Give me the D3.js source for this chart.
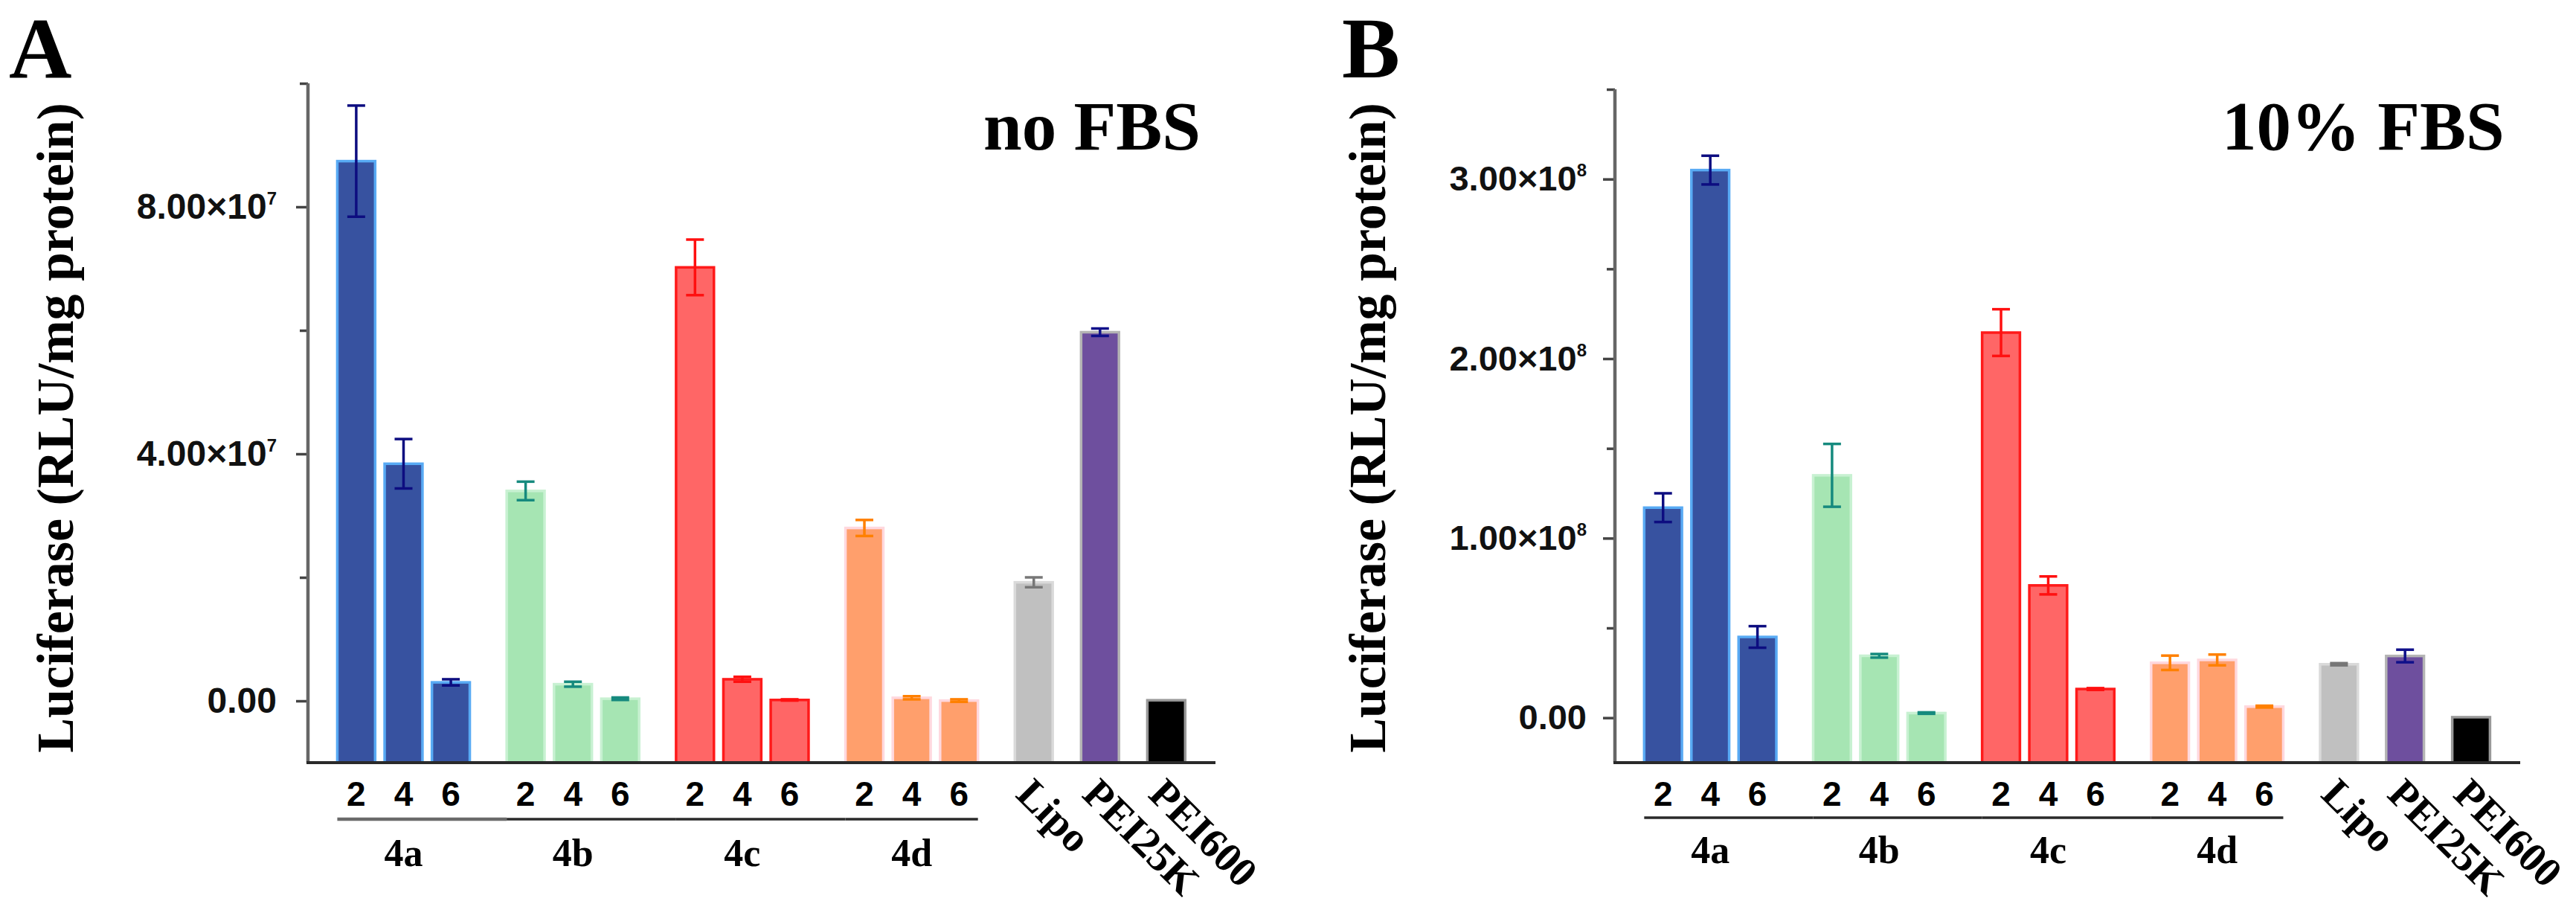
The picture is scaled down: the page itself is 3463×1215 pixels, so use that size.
<!DOCTYPE html>
<html>
<head>
  <meta charset="utf-8">
  <title>Luciferase expression, no FBS vs 10% FBS</title>
  <script src="https://d3js.org/d3.v7.min.js"></script>
  <style>
    body { margin: 0; background: #fff; }
    svg { display: block; }
  </style>
</head>
<body>
<svg id="fig" width="3463" height="1215"></svg>
<script>
// ---- data ----
const categories = ["2", "4", "6", "2", "4", "6", "2", "4", "6", "2", "4", "6", "Lipo", "PEI25K", "PEI600"];
const categoryGroups = ["4a", "4a", "4a", "4b", "4b", "4b", "4c", "4c", "4c", "4d", "4d", "4d", "Lipo", "PEI25K", "PEI600"];
const groupLabels = ["4a", "4b", "4c", "4d"];

// panel A : no FBS
const noFbsMeans  = [87.4e6, 38.4e6, 3.0e6, 34.0e6, 2.7e6, 0.35e6, 70.2e6, 3.5e6, 0.15e6, 28.0e6, 0.5e6, 0.05e6, 19.2e6, 59.7e6, 0.1e6];
const noFbsErrors = [9.0e6, 4.0e6, 0.5e6, 1.5e6, 0.4e6, 0.2e6, 4.5e6, 0.4e6, 0.1e6, 1.3e6, 0.25e6, 0.2e6, 0.8e6, 0.6e6, 0];
const noFbsTicks = [0, 4e7, 8e7];
const noFbsMinorTicks = [2e7, 6e7, 1e8];

// panel B : 10% FBS
const fbsMeans  = [1.17e8, 3.05e8, 0.45e8, 1.35e8, 0.345e8, 0.026e8, 2.145e8, 0.737e8, 0.16e8, 0.306e8, 0.322e8, 0.062e8, 0.298e8, 0.344e8, 0.003e8];
const fbsErrors = [0.08e8, 0.08e8, 0.06e8, 0.175e8, 0.01e8, 0.004e8, 0.13e8, 0.05e8, 0.005e8, 0.04e8, 0.03e8, 0.005e8, 0.006e8, 0.035e8, 0];
const fbsTicks = [0, 1e8, 2e8, 3e8];
const fbsMinorTicks = [0.5e8, 1.5e8, 2.5e8, 3.5e8];

// ---- styles ----
const groupStyle = {
  "4a":     {fill: "#3752a0", stroke: "#58aaf4", err: "#0d0d80"},
  "4b":     {fill: "#a6e5b3", stroke: "#c8f1d2", err: "#168a7e"},
  "4c":     {fill: "#ff6666", stroke: "#ff1a1a", err: "#ff1010"},
  "4d":     {fill: "#ff9f6c", stroke: "#ffd8de", err: "#ff8000"},
  "Lipo":   {fill: "#c0c0c0", stroke: "#dadada", err: "#777777"},
  "PEI25K": {fill: "#6e4f9e", stroke: "#b4b4b4", err: "#10108a"},
  "PEI600": {fill: "#000000", stroke: "#999999", err: "#000000"}
};
const serif = "'Liberation Serif', 'Times New Roman', serif";
const sans = "'Liberation Sans', Arial, sans-serif";

// slot positions: step 1 inside a group, wider gap between groups
const slots = [];
categoryGroups.forEach((g, i) => {
  if (i === 0) { slots.push(0); return; }
  const prev = categoryGroups[i - 1];
  const single = !groupLabels.includes(g) && !groupLabels.includes(prev);
  slots.push(slots[i - 1] + (g === prev ? 1 : single ? 1.4 : 1.58));
});

const svg = d3.select("#fig");

const panels = [
  {letter: "A", letterX: 12, title: "no FBS", titleX: 1322, left: 414, right: 1634,
   means: noFbsMeans, errors: noFbsErrors, domain: [-1e7, 1e8], top: 112,
   ticks: noFbsTicks, minor: noFbsMinorTicks, exp: 7, yTitleX: 98,
   tickFont: {weight: "bold", size: 48, family: sans}, padding: 26,
   catFont: {family: sans, size: 46, weight: "bold"},
   lineY: 1101, groupY: 1164},
  {letter: "B", letterX: 1804, title: "10% FBS", titleX: 2987, left: 2171, right: 3388,
   means: fbsMeans, errors: fbsErrors, domain: [-0.25e8, 3.5e8], top: 120,
   ticks: fbsTicks, minor: fbsMinorTicks, exp: 8, yTitleX: 1862,
   tickFont: {weight: "bold", size: 47, family: sans}, padding: 22,
   catFont: {family: sans, size: 46, weight: "bold"},
   lineY: 1099, groupY: 1160}
];

const bottom = 1025;

panels.forEach(p => {
  const g = svg.append("g");

  const x = d3.scaleLinear()
    .domain([-1.02, slots[slots.length - 1] + 1.04])
    .range([p.left, p.right]);
  const y = d3.scaleLinear().domain(p.domain).range([bottom, p.top]);
  const barW = (x(1) - x(0)) * 0.8;

  // panel letter and condition title
  g.append("text").attr("x", p.letterX).attr("y", 104)
    .style("font-family", serif).style("font-weight", "bold").style("font-size", "117px")
    .text(p.letter);
  g.append("text").attr("x", p.titleX).attr("y", 201)
    .style("font-family", serif).style("font-weight", "bold").style("font-size", "93px")
    .text(p.title);

  // y-axis title
  g.append("text")
    .attr("transform", `translate(${p.yTitleX},575) rotate(-90)`)
    .attr("text-anchor", "middle")
    .style("font-family", serif).style("font-weight", "bold").style("font-size", "70px")
    .text("Luciferase (RLU/mg protein)");

  // bars
  g.selectAll(".bar")
    .data(p.means)
    .join("rect")
      .attr("class", "bar")
      .attr("x", (d, i) => x(slots[i]) - barW / 2)
      .attr("y", d => y(d))
      .attr("width", barW)
      .attr("height", d => y(p.domain[0]) - y(d))
      .attr("fill", (d, i) => groupStyle[categoryGroups[i]].fill)
      .attr("stroke", (d, i) => groupStyle[categoryGroups[i]].stroke)
      .attr("stroke-width", 3.5);

  // error bars
  const capW = 12;
  const eb = g.selectAll(".err")
    .data(p.means.map((m, i) => ({m: m, e: p.errors[i], i: i})).filter(d => d.e > 0))
    .join("g")
      .attr("class", "err")
      .attr("stroke", d => groupStyle[categoryGroups[d.i]].err)
      .attr("stroke-width", 3.5);
  eb.append("line")
    .attr("x1", d => x(slots[d.i])).attr("x2", d => x(slots[d.i]))
    .attr("y1", d => y(d.m - d.e)).attr("y2", d => y(d.m + d.e));
  eb.append("line")
    .attr("x1", d => x(slots[d.i]) - capW).attr("x2", d => x(slots[d.i]) + capW)
    .attr("y1", d => y(d.m + d.e)).attr("y2", d => y(d.m + d.e));
  eb.append("line")
    .attr("x1", d => x(slots[d.i]) - capW).attr("x2", d => x(slots[d.i]) + capW)
    .attr("y1", d => y(d.m - d.e)).attr("y2", d => y(d.m - d.e));

  // y axis (major labelled ticks + unlabelled minor ticks)
  const fmt = v => v === 0 ? "0.00" : (v / Math.pow(10, p.exp)).toFixed(2) + "×10";
  const yAxis = g.append("g")
    .attr("transform", `translate(${p.left},0)`)
    .call(d3.axisLeft(y).tickValues(p.ticks).tickSize(16).tickPadding(p.padding).tickFormat(fmt));
  yAxis.selectAll(".tick text")
    .style("font-family", p.tickFont.family)
    .style("font-weight", p.tickFont.weight)
    .style("font-size", p.tickFont.size + "px")
    .attr("fill", "#111")
    .filter(d => d !== 0)
    .append("tspan")
      .attr("dy", -19)
      .style("font-size", "24px")
      .text(p.exp);
  yAxis.selectAll(".tick line").attr("stroke", "#444").attr("stroke-width", 3.5);
  yAxis.select(".domain").remove();

  const yMinor = g.append("g")
    .attr("transform", `translate(${p.left},0)`)
    .call(d3.axisLeft(y).tickValues(p.minor).tickSize(11).tickFormat(""));
  yMinor.selectAll(".tick line").attr("stroke", "#444").attr("stroke-width", 3.5);
  yMinor.select(".domain").remove();

  g.append("line")
    .attr("x1", p.left).attr("x2", p.left)
    .attr("y1", y(p.domain[1])).attr("y2", bottom)
    .attr("stroke", "#666").attr("stroke-width", 4.5);

  // bottom axis line
  g.append("line")
    .attr("x1", p.left - 2).attr("x2", p.right)
    .attr("y1", bottom).attr("y2", bottom)
    .attr("stroke", "#2a2a2a").attr("stroke-width", 4);

  // category tick labels (2 / 4 / 6) and rotated control labels
  categories.forEach((c, i) => {
    const grp = categoryGroups[i];
    if (groupLabels.includes(grp)) {
      g.append("text")
        .attr("x", x(slots[i])).attr("y", 1083)
        .attr("text-anchor", "middle")
        .style("font-family", p.catFont.family)
        .style("font-weight", p.catFont.weight)
        .style("font-size", p.catFont.size + "px")
        .text(c);
    } else {
      g.append("text")
        .attr("transform", `translate(${x(slots[i]) - 26},1070) rotate(45)`)
        .style("font-family", serif).style("font-weight", "bold").style("font-size", "56px")
        .text(c);
    }
  });

  // group underline and group names
  groupLabels.forEach((gl, k) => {
    const idx = categoryGroups.map((c, i) => c === gl ? i : -1).filter(i => i >= 0);
    const first = slots[idx[0]], last = slots[idx[idx.length - 1]];
    const nextIdx = idx[idx.length - 1] + 1;
    const x1 = x(first) - barW / 2;
    const x2 = k < groupLabels.length - 1 ? x(slots[nextIdx]) - barW / 2 : x(last) + barW / 2;
    g.append("line")
      .attr("x1", x1).attr("x2", x2)
      .attr("y1", p.lineY).attr("y2", p.lineY)
      .attr("stroke", k === 0 && p.letter === "A" ? "#6a6a6a" : "#2a2a2a")
      .attr("stroke-width", k === 0 && p.letter === "A" ? 4.5 : 3.5);
    g.append("text")
      .attr("x", x((first + last) / 2)).attr("y", p.groupY)
      .attr("text-anchor", "middle")
      .style("font-family", serif).style("font-weight", "bold").style("font-size", "52px")
      .text(gl);
  });
});
</script>
</body>
</html>
